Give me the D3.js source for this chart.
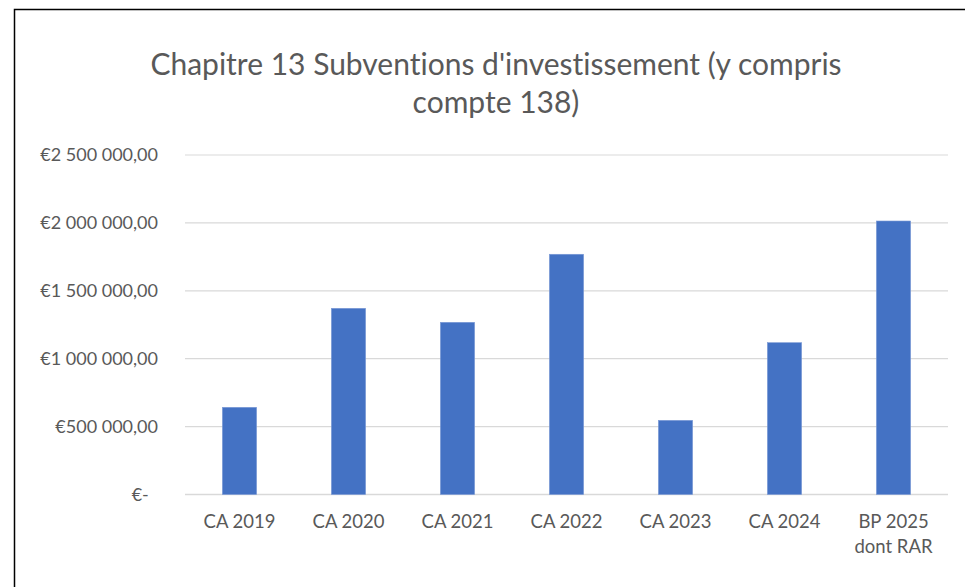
<!DOCTYPE html>
<html>
<head>
<meta charset="utf-8">
<script src="https://d3js.org/d3.v7.min.js"></script>
<style>
    body { margin: 0; background: #fff; font-family: Lato, "Open Sans", sans-serif; }
    svg text { fill: #595959; font-variant-ligatures: none; }
</style>
</head>
<body>
<div id="chart"></div>
<script>
    // data
    var categories = ["CA 2019", "CA 2020", "CA 2021", "CA 2022", "CA 2023", "CA 2024", "BP 2025\ndont RAR"];
    var values = [642000, 1371000, 1268000, 1769000, 546000, 1118000, 2014000];
    var tickValues = [0, 500000, 1000000, 1500000, 2000000, 2500000];
    var tickLabels = ["€-\u00a0\u00a0", "€500 000,00", "€1 000 000,00", "€1 500 000,00", "€2 000 000,00", "€2 500 000,00"];
    var titleLines = ["Chapitre 13 Subventions d'investissement (y compris", "compte 138)"];

    var width = 965, height = 587;
    var margin = { top: 155, right: 17, bottom: 92.5, left: 185 };

    var svg = d3.select("#chart").append("svg")
        .attr("width", width)
        .attr("height", height);

    // outer frame of the chart area
    svg.append("rect")
        .attr("x", 14.5).attr("y", 9.5)
        .attr("width", 1000).attr("height", 700)
        .attr("fill", "#fff")
        .attr("stroke", "#000")
        .attr("stroke-width", 1.5);

    var x = d3.scaleBand()
        .domain(categories)
        .range([margin.left, width - margin.right])
        .padding(0.686)
        .paddingOuter(0.343);

    var y = d3.scaleLinear()
        .domain([0, 2500000])
        .range([height - margin.bottom, margin.top]);

    // gridlines
    svg.append("g")
        .selectAll("line")
        .data(tickValues)
        .enter().append("line")
        .attr("x1", margin.left)
        .attr("x2", width - margin.right)
        .attr("y1", function (d) { return y(d); })
        .attr("y2", function (d) { return y(d); })
        .attr("stroke", "#d9d9d9")
        .attr("stroke-width", function (d) { return d === 0 ? 1.5 : 1.2; });

    // y axis labels
    var yAxis = d3.axisLeft(y)
        .tickValues(tickValues)
        .tickSize(0)
        .tickPadding(27)
        .tickFormat(function (d, i) { return tickLabels[i]; });
    var gy = svg.append("g")
        .attr("transform", "translate(" + margin.left + ",0)")
        .call(yAxis);
    gy.select(".domain").remove();
    gy.selectAll("text")
        .style("font-family", "Lato, sans-serif")
        .style("font-size", "18px")
        .style("fill", "#595959");

    // bars
    svg.append("g")
        .selectAll("rect")
        .data(values)
        .enter().append("rect")
        .attr("x", function (d, i) { return x(categories[i]); })
        .attr("width", x.bandwidth())
        .attr("y", function (d) { return y(d); })
        .attr("height", function (d) { return y(0) - y(d); })
        .attr("fill", "#4472c4")
        .attr("stroke", "#7c9ad6")
        .attr("stroke-width", 0.6);

    // x axis labels
    var xAxis = d3.axisBottom(x).tickSize(0).tickPadding(0);
    var gx = svg.append("g")
        .attr("transform", "translate(0," + y(0) + ")")
        .call(xAxis);
    gx.select(".domain").remove();
    gx.selectAll("text").each(function (d) {
        var t = d3.select(this).text("")
            .attr("y", 0).attr("dy", null)
            .style("font-family", "Lato, sans-serif")
            .style("font-size", "18.5px")
            .style("fill", "#595959");
        d.split("\n").forEach(function (line, k) {
            t.append("tspan").attr("x", 0).attr("y", 33 + k * 25).text(line);
        });
    });

    // title
    svg.append("g").selectAll("text")
        .data(titleLines)
        .enter().append("text")
        .attr("x", 496)
        .attr("y", function (d, i) { return 75 + i * 38; })
        .attr("text-anchor", "middle")
        .style("font-family", "Lato, sans-serif")
        .style("font-size", "30px")
        .text(function (d) { return d; });
</script>
</body>
</html>
